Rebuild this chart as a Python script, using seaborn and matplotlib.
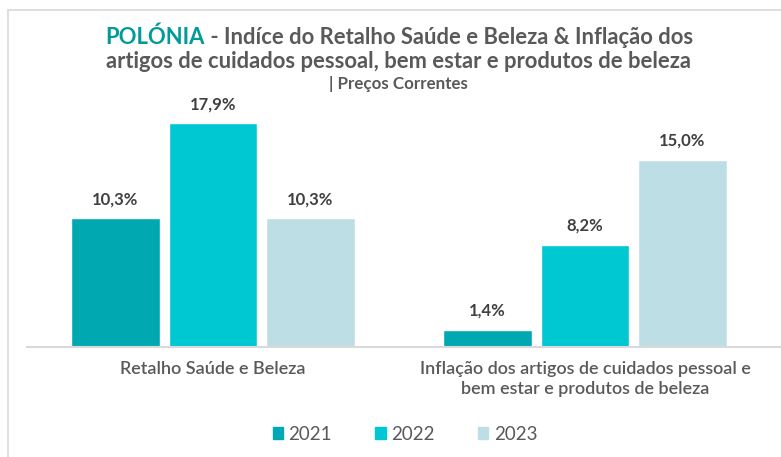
import matplotlib
matplotlib.use("Agg")
import matplotlib.pyplot as plt
import seaborn as sns
import pandas as pd
from matplotlib.patches import Rectangle

categories = ["Retalho Saúde e Beleza",
              "Inflação dos artigos de cuidados pessoal e\nbem estar e produtos de beleza"]
years = ["2021", "2022", "2023"]
values_2021 = [10.3, 1.4]
values_2022 = [17.9, 8.2]
values_2023 = [10.3, 15.0]
colors = ["#00A8B2", "#00C8D2", "#BEDEE6"]

rows = []
for y, vals in zip(years, [values_2021, values_2022, values_2023]):
    for c, v in zip(categories, vals):
        rows.append({"cat": c, "year": y, "val": v})
df = pd.DataFrame(rows)

sns.set_style("white")
plt.rcParams["font.family"] = ["Lato", "DejaVu Sans"]

W, H = 781, 457
fig = plt.figure(figsize=(W / 100, H / 100), dpi=100)
ax = fig.add_axes([27 / W, (H - 347) / H, 754 / W, 257 / H])

sns.barplot(data=df, x="cat", y="val", hue="year", order=categories,
            hue_order=years, palette=colors, width=0.786, gap=0.09,
            ax=ax, legend=False, saturation=1)

ax.set_xlim(-0.5, -0.5 + 754 / 372)
ax.set_ylim(0, 257 / 12.5)
ax.set_xlabel("")
ax.set_ylabel("")
ax.set_yticks([])
for s in ["top", "right", "left"]:
    ax.spines[s].set_visible(False)
ax.spines["bottom"].set_color("#D9D9D9")
ax.spines["bottom"].set_linewidth(1.5)
ax.tick_params(axis="x", length=0, pad=10, labelsize=13, labelcolor="#595959")
for t in ax.get_xticklabels():
    t.set_fontweight("semibold")
    t.set_linespacing(1.3)

for cont in ax.containers:
    labels = [f"{b.get_height():.1f}%".replace(".", ",") for b in cont]
    ax.bar_label(cont, labels=labels, padding=8, fontsize=12,
                 fontweight="bold", color="#404040")

# Frame
fig.patches.append(Rectangle((8 / W, -0.1), 1.2, (H - 10) / H + 0.1,
                             transform=fig.transFigure, fill=False,
                             edgecolor="#D9D9D9", linewidth=1.2))

# Title
fig.canvas.draw()
r = fig.canvas.get_renderer()
tfs = 15.8
ya = (H - 37) / H
t1a = fig.text(0, ya, "POLÓNIA", ha="left", va="center",
               fontsize=tfs, fontweight="bold", color="#009A9A")
t1b = fig.text(0, ya, " - Indíce do Retalho Saúde e Beleza & Inflação dos",
               ha="left", va="center", fontsize=tfs, fontweight="bold", color="#595959")
wa = t1a.get_window_extent(r).width
wb = t1b.get_window_extent(r).width
x0 = 399 - (wa + wb) / 2
t1a.set_x(x0 / W)
t1b.set_x((x0 + wa) / W)
fig.text(398 / W, (H - 62) / H,
         "artigos de cuidados pessoal, bem estar e produtos de beleza",
         ha="center", va="center", fontsize=tfs, fontweight="bold", color="#595959")
fig.text(398 / W, (H - 84) / H, "| Preços Correntes", ha="center", va="center",
         fontsize=12.2, fontweight="bold", color="#595959")

# Legend
handles = [Rectangle((0, 0), 1, 1, color=c) for c in colors]
fig.legend(handles, years, loc="center", bbox_to_anchor=(405 / W, (H - 434) / H),
           ncol=3, frameon=False, fontsize=13.5, labelcolor="#595959",
           handlelength=0.55, handleheight=0.55, handletextpad=0.3,
           columnspacing=2.3)

fig.savefig("out.png", dpi=100, facecolor="white")
